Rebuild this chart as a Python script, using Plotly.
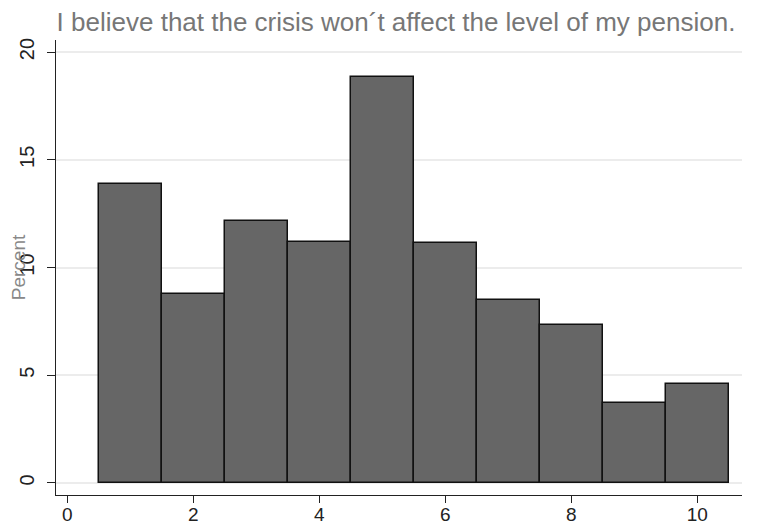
import plotly.graph_objects as go

scores = [1, 2, 3, 4, 5, 6, 7, 8, 9, 10]
percent = [13.87, 8.76, 12.16, 11.18, 18.85, 11.15, 8.49, 7.33, 3.73, 4.58]
title_text = "I believe that the crisis won´t affect the level of my pension."
x_ticks = [0, 2, 4, 6, 8, 10]
y_ticks = [0, 5, 10, 15, 20]

fig = go.Figure()
fig.add_trace(go.Bar(
    x=scores, y=percent, width=1,
    marker=dict(color="#666666", line=dict(color="#111111", width=1.5)),
    showlegend=False,
))

# page has an 8px body margin; figure is offset by (8, 8)
fig.update_layout(
    width=752, height=517,
    margin=dict(l=48, r=18, t=32, b=30),
    paper_bgcolor="white", plot_bgcolor="white",
    font=dict(family="Liberation Sans, Arial, sans-serif", color="black"),
    title=dict(text=title_text, x=0.4956, xref="paper", xanchor="center",
               y=1 - 14 / 517, yref="container", yanchor="middle",
               font=dict(size=26, color="#777777")),
    bargap=0,
)
fig.update_xaxes(
    range=[-0.18, 10.71], tickvals=x_ticks, showgrid=False, zeroline=False,
    showline=True, linecolor="#222222", linewidth=1,
    ticks="outside", ticklen=7, tickcolor="#222222", ticklabelstandoff=-5,
    tickfont=dict(size=19, color="#222222"), automargin=False,
)
fig.update_yaxes(
    range=[-0.56, 20.56], tickvals=y_ticks, showgrid=True, gridcolor="#ececec",
    gridwidth=1.5, zeroline=False,
    showline=True, linecolor="#222222", linewidth=1,
    ticks="outside", ticklen=8, tickcolor="#222222", tickangle=-90,
    ticklabelstandoff=5,
    tickfont=dict(size=20, color="#222222"), automargin=False,
    title=dict(text="Percent", font=dict(size=19, color="#888888"), standoff=0),
)

fig.write_html("out.html")
